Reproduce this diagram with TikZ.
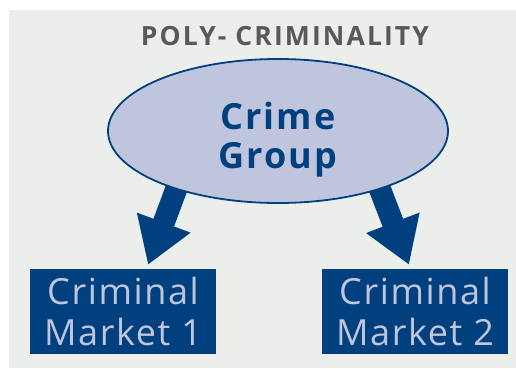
\documentclass[tikz,border=0pt]{standalone}
\usepackage{fontspec}
\setmainfont{Open Sans}
\usetikzlibrary{arrows.meta, shapes.geometric, calc}
\definecolor{bggrey}{HTML}{ECEEEB}
\definecolor{titlegrey}{HTML}{58595B}
\definecolor{darkblue}{HTML}{00407E}
\definecolor{lightlav}{HTML}{C0C5DE}
\tikzset{
  market/.style={fill=darkblue, text=lightlav, minimum width=186pt, minimum height=85pt,
    inner sep=0pt, align=center, font=\fontsize{36}{41}\selectfont\addfontfeatures{LetterSpace=4.5}},
  bigarrow/.style={draw=darkblue, line width=22pt,
    -{Triangle[length=45pt, width=54pt]}}
}

\begin{document}
\begin{tikzpicture}[x=1pt, y=-1pt]
    % grauer Hintergrund mit weissem Rand oben und links
    \useasboundingbox (0,0) rectangle (516,368);
    \fill[bggrey] (9,10) rectangle (516,368);

    % Ueberschrift
    \node[anchor=base, text=titlegrey, inner sep=0pt,
          font=\bfseries\fontsize{26.5}{30}\selectfont\addfontfeatures{LetterSpace=8}]
        (title) at (285,45) {POLY- CRIMINALITY};

    % die beiden Maerkte
    \node[market] (m1) at (123,311.5) {Criminal\\Market 1};
    \node[market] (m2) at (415,311.5) {Criminal\\Market 2};

    % Pfeile zuerst, damit die Ellipse sie ueberdeckt
    \coordinate (s1) at (183,171);
    \coordinate (s2) at (373,171);
    \draw[bigarrow] (s1) -- ($(m1.north)+(25,-4)$);
    \draw[bigarrow] (s2) -- ($(m2.north)+(-6,-4)$);

    % Gruppe in der Mitte
    \node[ellipse, draw=darkblue, line width=1.8pt, fill=lightlav,
          minimum width=340pt, minimum height=144pt] (grp) at (278,131) {};
    \node[anchor=north, inner sep=0pt, align=center, text=darkblue,
          font=\bfseries\fontsize{36}{39}\selectfont\addfontfeatures{LetterSpace=6}]
        (grptxt) at (278,102) {Crime\\Group};
\end{tikzpicture}
\end{document}
